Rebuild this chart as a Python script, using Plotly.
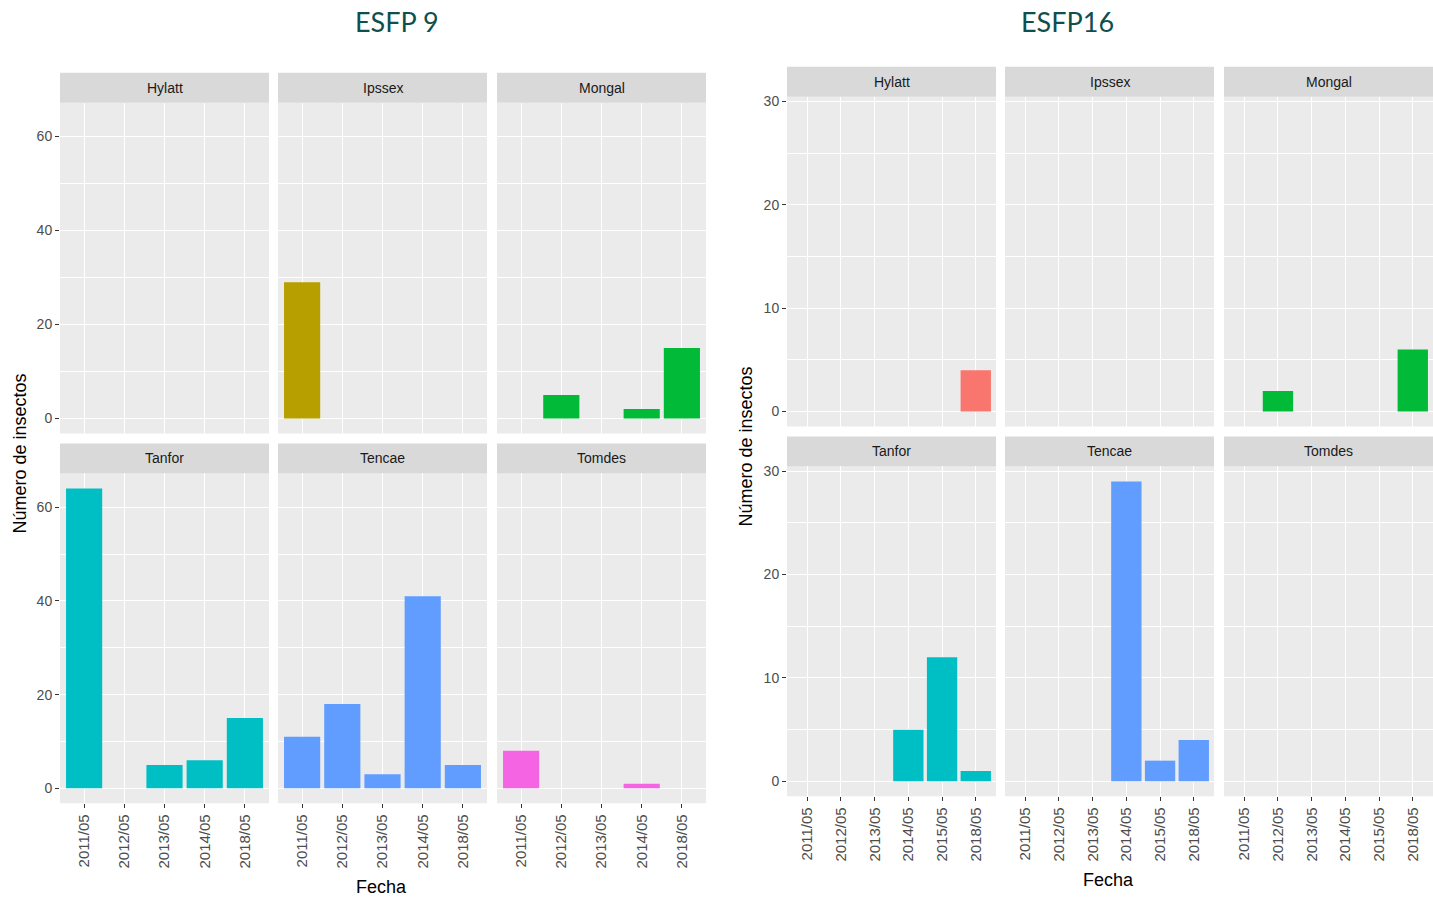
import plotly.graph_objects as go

# ---------------- data ----------------
fechas_9 = ["2011/05", "2012/05", "2013/05", "2014/05", "2018/05"]
fechas_16 = ["2011/05", "2012/05", "2013/05", "2014/05", "2015/05", "2018/05"]
especies = ["Hylatt", "Ipssex", "Mongal", "Tanfor", "Tencae", "Tomdes"]
colores = ["#F8766D", "#B79F00", "#00BA38", "#00BFC4", "#619CFF", "#F564E3"]

esfp9_hylatt = [0, 0, 0, 0, 0]
esfp9_ipssex = [29, 0, 0, 0, 0]
esfp9_mongal = [0, 5, 0, 2, 15]
esfp9_tanfor = [64, 0, 5, 6, 15]
esfp9_tencae = [11, 18, 3, 41, 5]
esfp9_tomdes = [8, 0, 0, 1, 0]

esfp16_hylatt = [0, 0, 0, 0, 0, 4]
esfp16_ipssex = [0, 0, 0, 0, 0, 0]
esfp16_mongal = [0, 2, 0, 0, 0, 6]
esfp16_tanfor = [0, 0, 0, 5, 12, 1]
esfp16_tencae = [0, 0, 0, 29, 2, 4]
esfp16_tomdes = [0, 0, 0, 0, 0, 0]

# ---------------- layout geometry ----------------
W, H = 1433, 897
FONT = "Liberation Sans, Arial, sans-serif"

def fx(px):
    return px / W

def fy(py):
    return 1 - py / H

charts = [
    dict(
        title="ESFP 9", title_x=397, title_y=19,
        fechas=fechas_9,
        data=[esfp9_hylatt, esfp9_ipssex, esfp9_mongal, esfp9_tanfor, esfp9_tencae, esfp9_tomdes],
        cols=[(60, 269), (278, 487), (497, 706)],
        rows=[(70, 100, 432), (442, 472, 803)],
        yrange=[-3.2, 67.2], dtick=20, minor=10,
        ylab_x=20, ylab_y=452, xlab_x=381, xlab_y=887,
    ),
    dict(
        title="ESFP16", title_x=1067, title_y=19,
        fechas=fechas_16,
        data=[esfp16_hylatt, esfp16_ipssex, esfp16_mongal, esfp16_tanfor, esfp16_tencae, esfp16_tomdes],
        cols=[(787, 996), (1005, 1214), (1224, 1433)],
        rows=[(64, 94, 425), (435, 465, 796)],
        yrange=[-1.45, 30.45], dtick=10, minor=5,
        ylab_x=746, ylab_y=445, xlab_x=1108, xlab_y=880,
    ),
]

fig = go.Figure()
shapes = []
annotations = []
layout_axes = {}
k = 0

for ch in charts:
    n = len(ch["fechas"])
    for i, (sp, vals) in enumerate(zip(especies, ch["data"])):
        r, c = divmod(i, 3)
        k += 1
        xa = "x" if k == 1 else f"x{k}"
        ya = "y" if k == 1 else f"y{k}"
        x0, x1 = ch["cols"][c]
        s0, p0, p1 = ch["rows"][r]
        fig.add_trace(go.Bar(
            x=ch["fechas"],
            y=[v if v else None for v in vals],
            marker=dict(color=colores[i], line=dict(width=0)),
            width=0.9,
            xaxis=xa, yaxis=ya,
            showlegend=False,
            hovertemplate="%{x}: %{y}<extra>" + sp + "</extra>",
        ))
        bottom = (r == 1)
        left = (c == 0)
        layout_axes["xaxis" if k == 1 else f"xaxis{k}"] = dict(
            domain=[fx(x0), fx(x1)], anchor=ya,
            type="category", categoryorder="array", categoryarray=ch["fechas"],
            range=[-0.6, n - 1 + 0.6],
            showgrid=True, gridcolor="white", gridwidth=1.3,
            zeroline=False, showline=False,
            ticks="outside" if bottom else "", ticklen=4, tickwidth=1.1, tickcolor="#333333",
            showticklabels=bottom, tickangle=-90,
            tickfont=dict(family=FONT, size=15, color="#4D4D4D"),
            fixedrange=True,
        )
        layout_axes["yaxis" if k == 1 else f"yaxis{k}"] = dict(
            domain=[fy(p1), fy(p0)], anchor=xa,
            range=ch["yrange"], tick0=0, dtick=ch["dtick"],
            showgrid=True, gridcolor="white", gridwidth=1.3,
            minor=dict(dtick=ch["minor"], tick0=0, showgrid=True, gridcolor="white", gridwidth=0.6, ticks=""),
            zeroline=False, showline=False,
            ticks="outside" if left else "", ticklen=4, tickwidth=1.1, tickcolor="#333333",
            showticklabels=left,
            tickfont=dict(family=FONT, size=14, color="#4D4D4D"),
            fixedrange=True,
        )
        # panel background
        shapes.append(dict(type="rect", xref="paper", yref="paper",
                           x0=fx(x0), x1=fx(x1), y0=fy(p1), y1=fy(p0),
                           fillcolor="#EBEBEB", line=dict(width=0), layer="below"))
        # strip
        shapes.append(dict(type="rect", xref="paper", yref="paper",
                           x0=fx(x0), x1=fx(x1), y0=fy(p0), y1=fy(s0),
                           fillcolor="#D9D9D9", line=dict(width=0), layer="below"))
        annotations.append(dict(text=sp, xref="paper", yref="paper",
                                x=fx((x0 + x1) / 2), y=fy((s0 + p0) / 2),
                                xanchor="center", yanchor="middle", showarrow=False,
                                font=dict(family=FONT, size=14, color="#1A1A1A")))
    # titles and axis labels
    annotations.append(dict(text=ch["title"], xref="paper", yref="paper",
                            x=fx(ch["title_x"]), y=fy(ch["title_y"]),
                            xanchor="center", yanchor="middle", showarrow=False,
                            font=dict(family="Lato, Open Sans, sans-serif", size=27, color="#0F4F4D")))
    annotations.append(dict(text="Número de insectos", xref="paper", yref="paper",
                            x=fx(ch["ylab_x"]), y=fy(ch["ylab_y"]), textangle=-90,
                            xanchor="center", yanchor="middle", showarrow=False,
                            font=dict(family=FONT, size=18, color="#000000")))
    annotations.append(dict(text="Fecha", xref="paper", yref="paper",
                            x=fx(ch["xlab_x"]), y=fy(ch["xlab_y"]),
                            xanchor="center", yanchor="middle", showarrow=False,
                            font=dict(family=FONT, size=18, color="#000000")))

fig.update_layout(
    width=W, height=H,
    margin=dict(l=0, r=0, t=0, b=0),
    paper_bgcolor="white", plot_bgcolor="rgba(0,0,0,0)",
    bargap=0.1,
    shapes=shapes, annotations=annotations,
    **layout_axes,
)

fig.write_html(
    "out.html",
    config={"displayModeBar": False},
    post_script="document.body.style.margin='0px';document.body.style.overflow='hidden';",
)
